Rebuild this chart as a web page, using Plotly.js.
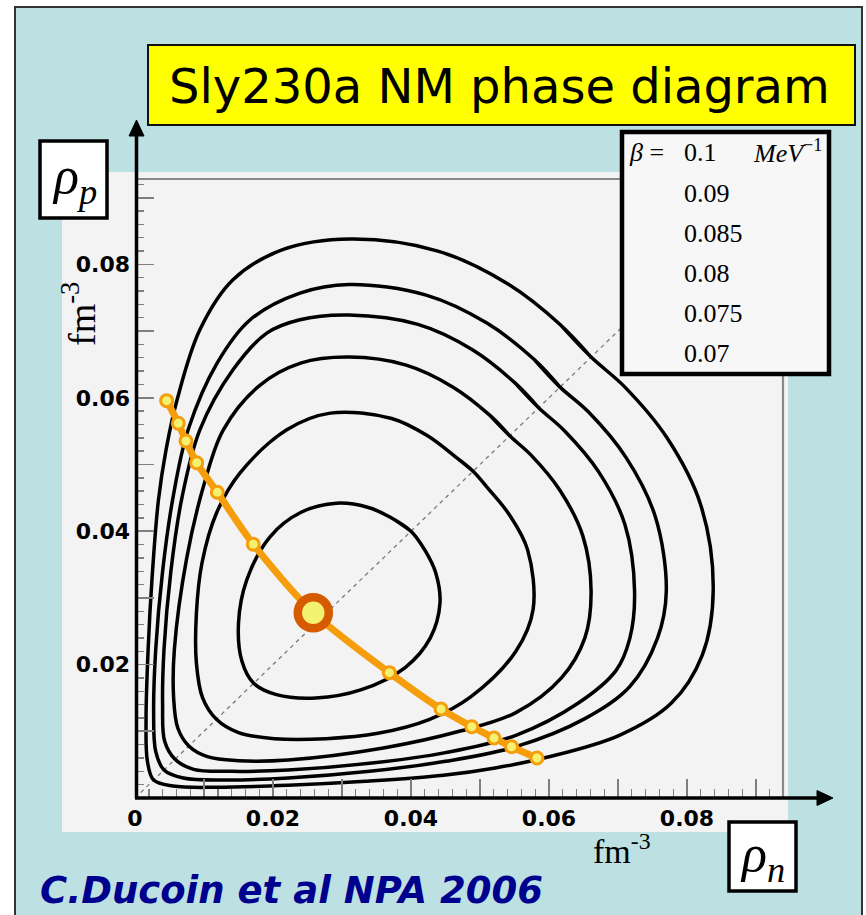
<!DOCTYPE html>
<html>
<head>
<meta charset="utf-8">
<script src="https://cdn.plot.ly/plotly-3.0.1.min.js"></script>
<style>html,body{margin:0;padding:0;background:#fff;}#chart{width:866px;height:915px;}</style>
</head>
<body>
<div id="chart"></div>
<script>
// ---- data (rho_n, rho_p in fm^-3) ----
const betaLabels = ["0.1", "0.09", "0.085", "0.08", "0.075", "0.07"];

// beta = 0.1
const c1x = [0.0661,0.0616,0.0540,0.0439,0.0312,0.0214,0.0142,0.0094,0.0061,0.0045,0.0034,0.0025,0.0019,0.0016,0.0018,0.0027,0.0055,0.0117,0.0222,0.0334,0.0447,0.0522,0.0597,0.0702,0.0777,0.0822,0.0838,0.0820,0.0771,0.0710,0.0661,0.0616];
const c1y = [0.0661,0.0710,0.0771,0.0820,0.0838,0.0822,0.0777,0.0702,0.0597,0.0522,0.0447,0.0334,0.0222,0.0117,0.0055,0.0027,0.0018,0.0016,0.0019,0.0025,0.0034,0.0045,0.0061,0.0094,0.0142,0.0214,0.0312,0.0439,0.0540,0.0616,0.0661,0.0710];
// beta = 0.09
const c2x = [0.0616,0.0579,0.0510,0.0422,0.0310,0.0239,0.0167,0.0119,0.0077,0.0055,0.0040,0.0030,0.0027,0.0030,0.0042,0.0070,0.0130,0.0222,0.0340,0.0450,0.0552,0.0652,0.0717,0.0757,0.0770,0.0754,0.0712,0.0657,0.0616,0.0579];
const c2y = [0.0616,0.0657,0.0712,0.0754,0.0770,0.0757,0.0717,0.0652,0.0552,0.0450,0.0340,0.0222,0.0130,0.0070,0.0042,0.0030,0.0027,0.0030,0.0040,0.0055,0.0077,0.0119,0.0167,0.0239,0.0310,0.0422,0.0510,0.0579,0.0616,0.0657];
// beta = 0.085
const c3x = [0.0585,0.0551,0.0489,0.0410,0.0310,0.0239,0.0191,0.0142,0.0094,0.0068,0.0052,0.0042,0.0040,0.0043,0.0058,0.0085,0.0140,0.0222,0.0340,0.0450,0.0552,0.0642,0.0697,0.0717,0.0724,0.0710,0.0672,0.0622,0.0585,0.0551];
const c3y = [0.0585,0.0622,0.0672,0.0710,0.0724,0.0717,0.0697,0.0642,0.0552,0.0450,0.0340,0.0222,0.0140,0.0085,0.0058,0.0043,0.0040,0.0042,0.0052,0.0068,0.0094,0.0142,0.0191,0.0239,0.0310,0.0410,0.0489,0.0551,0.0585,0.0622];
// beta = 0.08
const c4x = [0.0543,0.0514,0.0461,0.0393,0.0310,0.0240,0.0180,0.0128,0.0100,0.0075,0.0057,0.0056,0.0062,0.0078,0.0105,0.0150,0.0222,0.0360,0.0470,0.0552,0.0618,0.0652,0.0661,0.0649,0.0616,0.0574,0.0543,0.0514];
const c4y = [0.0543,0.0574,0.0616,0.0649,0.0661,0.0652,0.0618,0.0552,0.0470,0.0360,0.0222,0.0150,0.0105,0.0078,0.0062,0.0056,0.0057,0.0075,0.0100,0.0128,0.0180,0.0240,0.0310,0.0393,0.0461,0.0514,0.0543,0.0574];
// beta = 0.075
const c5x = [0.0490,0.0465,0.0424,0.0372,0.0283,0.0220,0.0152,0.0118,0.0097,0.0089,0.0089,0.0098,0.0118,0.0150,0.0202,0.0277,0.0352,0.0427,0.0487,0.0552,0.0577,0.0569,0.0543,0.0511,0.0490,0.0465];
const c5y = [0.0490,0.0511,0.0543,0.0569,0.0577,0.0552,0.0487,0.0427,0.0352,0.0277,0.0202,0.0150,0.0118,0.0098,0.0089,0.0089,0.0097,0.0118,0.0152,0.0220,0.0283,0.0372,0.0424,0.0465,0.0490,0.0511];
// beta = 0.07
const c6x = [0.0400,0.0370,0.0337,0.0292,0.0240,0.0196,0.0162,0.0150,0.0155,0.0172,0.0205,0.0262,0.0327,0.0392,0.0428,0.0442,0.0436,0.0421,0.0400,0.0370];
const c6y = [0.0400,0.0421,0.0436,0.0442,0.0428,0.0392,0.0327,0.0262,0.0205,0.0172,0.0155,0.0150,0.0162,0.0196,0.0240,0.0292,0.0337,0.0370,0.0400,0.0421];

// orange line (coexistence points) and critical point
const lineX = [0.00459,0.00628,0.00739,0.00894,0.01193,0.01714,0.02584,0.03686,0.04435,0.04881,0.05203,0.05458,0.05826];
const lineY = [0.05957,0.05618,0.05352,0.05027,0.04583,0.03804,0.02778,0.01879,0.01334,0.01069,0.00900,0.00769,0.00600];
const dotX = [0.00459,0.00628,0.00739,0.00894,0.01193,0.01714,0.03686,0.04435,0.04881,0.05203,0.05458,0.05826];
const dotY = [0.05957,0.05618,0.05352,0.05027,0.04583,0.03804,0.01879,0.01334,0.01069,0.00900,0.00769,0.00600];
const critX = [0.02584];
const critY = [0.02778];

// diagonal rho_n = rho_p
const diagX = [0, 0.0928];
const diagY = [0, 0.0928];

// ticks
const yLabelVals = [0.02, 0.04, 0.06, 0.08];
const yTickText = ["0.02", "0.04", "0.06", "0.08"];
const yMajorVals = [0, 0.01, 0.02, 0.03, 0.04, 0.05, 0.06, 0.07, 0.08, 0.09];

// ---- layout helpers (pixel -> paper) ----
const L = 135, R = 783, T = 179, B = 798;
const px = v => (v - L) / (R - L);
const py = v => (B - v) / (B - T);
const XR = [0, (R - L) / 6900], YR = [0, (B - T) / 6670];

const contourSets = [[c1x,c1y],[c2x,c2y],[c3x,c3y],[c4x,c4y],[c5x,c5y],[c6x,c6y]];
const traces = [];
traces.push({x: diagX, y: diagY, mode: 'lines', line: {color: '#7a7a7a', width: 1.3, dash: '4px,4px'}, hoverinfo: 'skip'});
contourSets.forEach(c => traces.push({x: c[0], y: c[1], mode: 'lines', line: {color: '#000', width: 3.5, shape: 'spline', smoothing: 1}, hoverinfo: 'skip'}));
traces.push({x: lineX, y: lineY, mode: 'lines', line: {color: '#f59d0b', width: 7, shape: 'spline', smoothing: 0.8}, cliponaxis: false});
traces.push({x: dotX, y: dotY, mode: 'markers', marker: {size: 12, color: '#f4f070', line: {color: '#f59d0b', width: 3}}, cliponaxis: false});
traces.push({x: critX, y: critY, mode: 'markers', marker: {size: 31, color: '#f4f070', line: {color: '#d65a00', width: 8.5}}, cliponaxis: false});
traces.push({x: [], y: [], xaxis: 'x', yaxis: 'y2', mode: 'lines', hoverinfo: 'skip'});

function rect(x0, y0, x1, y1, fill, lc, lw, layer) {
  return {type: 'rect', xref: 'paper', yref: 'paper', x0: px(x0), x1: px(x1), y0: py(y1), y1: py(y0),
          fillcolor: fill, line: {color: lc, width: lw}, layer: layer || 'above'};
}
function seg(x0, y0, x1, y1, lc, lw, layer) {
  return {type: 'line', xref: 'paper', yref: 'paper', x0: px(x0), x1: px(x1), y0: py(y0), y1: py(y1),
          line: {color: lc, width: lw}, layer: layer || 'above'};
}
function tri(pts) {
  let d = 'M ' + pts.map(p => px(p[0]) + ' ' + py(p[1])).join(' L ') + ' Z';
  return {type: 'path', xref: 'paper', yref: 'paper', path: d, fillcolor: '#000', line: {color: '#000', width: 1}};
}

const shapes = [
  rect(15, 7, 862, 930, '#bde0e3', '#333', 2, 'below'),
  rect(62, 172, 788, 832, '#f3f3f3', 'rgba(0,0,0,0)', 0, 'below'),
  seg(137, 179, 783, 179, '#8a8a8a', 2, 'below'),
  seg(783, 179, 783, 798, '#8a8a8a', 2.2, 'below'),
  seg(135, 798, 820, 798, '#000', 3.5),
  seg(136.5, 798, 136.5, 133, '#000', 3.5),
  tri([[817, 790.5], [833, 798], [817, 805.5]]),
  tri([[129, 136], [136.5, 120], [144, 136]]),
  rect(148, 45, 855, 125, '#ffff00', '#111', 2),
  rect(622, 132, 829, 374, '#f7f7f7', '#000', 4.5),
  rect(40, 141, 107, 218, '#ffffff', '#000', 3.5),
  rect(729, 822, 796, 891, '#ffffff', '#000', 3.5)
];

const serif = 'Liberation Serif, Times New Roman, serif';
function ann(text, x, y, xa, size, extra) {
  return Object.assign({text: text, xref: 'paper', yref: 'paper', x: px(x), y: py(y), xanchor: xa, yanchor: 'middle',
          showarrow: false, font: {family: serif, size: size, color: '#000'}}, extra || {});
}
const annotations = [
  ann('Sly230a NM phase diagram', 500, 86, 'center', 48, {font: {family: 'DejaVu Sans, sans-serif', size: 48, color: '#000'}}),
  ann('<i>β</i> =', 627, 153, 'left', 26),
  ann('<i>MeV</i><sup>−1</sup>', 751, 151, 'left', 26),
  ann('fm<sup>-3</sup>', 591, 849, 'left', 34),
  ann('fm<sup>-3</sup>', 79, 314, 'center', 38, {textangle: -90}),
  ann('<i>ρ</i><sub><i>p</i></sub>', 74, 180, 'center', 52),
  ann('<i>ρ</i><sub><i>n</i></sub>', 762, 857, 'center', 52),
  ann('C.Ducoin et al NPA 2006', 38, 890, 'left', 37, {font: {family: 'DejaVu Sans, sans-serif', size: 37, color: '#00008f', weight: 'bold', style: 'italic'}})
];
const rowY = [153, 193, 233, 273, 313, 353];
betaLabels.forEach((t, i) => annotations.push(ann(t, 682, rowY[i], 'left', 26)));

const tickFont = {family: 'DejaVu Sans, sans-serif', size: 22, color: '#000', weight: 'bold'};
const minorTicks = {tickmode: 'linear', tick0: 0, dtick: 0.002, ticks: 'inside', ticklen: 9, tickwidth: 1.4, tickcolor: '#7f7f7f'};
const layout = {
  width: 866, height: 915,
  margin: {l: L, r: 866 - R, t: T, b: 915 - B, pad: 0},
  paper_bgcolor: '#ffffff', plot_bgcolor: 'rgba(0,0,0,0)',
  showlegend: false,
  xaxis: {range: XR, showgrid: false, zeroline: false, showline: false,
          tickmode: 'linear', tick0: 0, dtick: 0.01, ticklabelstep: 2, tickformat: '.2~f',
          ticks: 'inside', ticklen: 19, tickwidth: 1.6, tickcolor: '#7f7f7f',
          tickfont: tickFont, ticklabelstandoff: 5, minor: minorTicks},
  yaxis: {range: YR, showgrid: false, zeroline: false, showline: false,
          tickmode: 'array', tickvals: yLabelVals, ticktext: yTickText, ticks: 'inside', ticklen: 19, tickwidth: 1.6, tickcolor: '#7f7f7f',
          tickfont: tickFont, ticklabelstandoff: 4, minor: minorTicks},
  yaxis2: {range: YR, overlaying: 'y', anchor: 'x', side: 'left', showgrid: false, zeroline: false, showline: false,
           tickmode: 'array', tickvals: yMajorVals, showticklabels: false, ticks: 'inside', ticklen: 19, tickwidth: 1.6, tickcolor: '#7f7f7f'},
  shapes: shapes,
  annotations: annotations
};
Plotly.newPlot('chart', traces, layout, {staticPlot: true, displayModeBar: false});
</script>
</body>
</html>
